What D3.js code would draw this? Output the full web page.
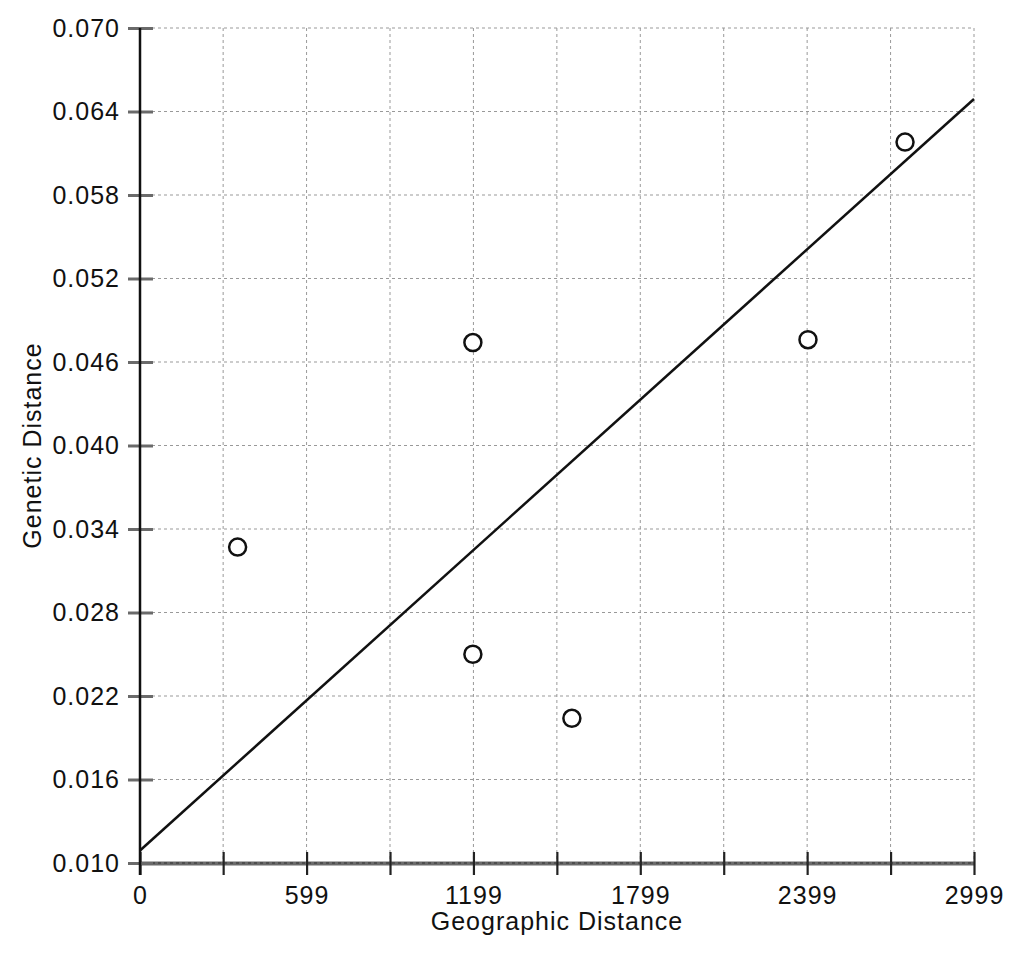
<!DOCTYPE html>
<html>
<head>
<meta charset="utf-8">
<script src="https://cdn.jsdelivr.net/npm/d3@7"></script>
<style>
    body { margin: 0; background: #fff; }
    text { font-family: "Liberation Sans", Arial, sans-serif; fill: #111; }
</style>
</head>
<body>
<div id="scatter"></div>
<script>
var geoDistance = [351, 1197, 1197, 1553, 2402, 2751];
var geneticDistance = [0.0327, 0.0474, 0.0250, 0.0204, 0.0476, 0.0618];

// fitted line, given by its two ends
var lineGeo = [0, 2999];
var lineGenetic = [0.0109, 0.0649];

var xTickValues = [0, 299, 599, 899, 1199, 1499, 1799, 2099, 2399, 2699, 2999];
var xTickLabels = ["0", "", "599", "", "1199", "", "1799", "", "2399", "", "2999"];
var yTickValues = [0.010, 0.016, 0.022, 0.028, 0.034, 0.040, 0.046, 0.052, 0.058, 0.064, 0.070];

var data = geoDistance.map(function (d, i) {
    return { geo: d, genetic: geneticDistance[i] };
});
var lineData = lineGeo.map(function (d, i) {
    return { geo: d, genetic: lineGenetic[i] };
});

var margin = { top: 28, right: 50, bottom: 91, left: 140 };
var width = 1024 - margin.left - margin.right;
var height = 954 - margin.top - margin.bottom;

var x = d3.scaleLinear().domain([0, 2999]).range([0, width]);
var y = d3.scaleLinear().domain([0.010, 0.070]).range([height, 0]);

var svg = d3.select("#scatter").append("svg")
    .attr("width", 1024)
    .attr("height", 954)
    .append("g")
    .attr("transform", "translate(" + margin.left + "," + margin.top + ")");

// grid
svg.append("g").selectAll("line")
    .data(xTickValues.slice(1))
    .enter().append("line")
    .attr("x1", function (d) { return x(d); })
    .attr("x2", function (d) { return x(d); })
    .attr("y1", 0)
    .attr("y2", height)
    .attr("stroke", "#999")
    .attr("stroke-width", 1)
    .attr("stroke-dasharray", "3,3");
svg.append("g").selectAll("line")
    .data(yTickValues)
    .enter().append("line")
    .attr("x1", 0)
    .attr("x2", width)
    .attr("y1", function (d) { return y(d); })
    .attr("y2", function (d) { return y(d); })
    .attr("stroke", "#999")
    .attr("stroke-width", 1)
    .attr("stroke-dasharray", "3,3");

// x axis
var xAxis = svg.append("g")
    .attr("transform", "translate(0," + height + ")")
    .call(d3.axisBottom(x)
        .tickValues(xTickValues)
        .tickFormat(function (d, i) { return xTickLabels[i]; })
        .tickSize(0)
        .tickPadding(23));
xAxis.select(".domain").attr("stroke", "#6a6a6a").attr("stroke-width", 4);
xAxis.selectAll(".tick line")
    .attr("y1", -11)
    .attr("y2", 12)
    .attr("stroke", "#222")
    .attr("stroke-width", 2.2);
xAxis.selectAll(".tick text")
    .style("font-size", "25px")
    .style("letter-spacing", "1px")
    .attr("fill", "#111");
svg.append("line")
    .attr("x1", 0).attr("x2", width)
    .attr("y1", height).attr("y2", height)
    .attr("stroke", "#333")
    .attr("stroke-width", 1)
    .attr("stroke-dasharray", "3,3");

// y axis
var yAxis = svg.append("g")
    .call(d3.axisLeft(y)
        .tickValues(yTickValues)
        .tickFormat(d3.format(".3f"))
        .tickSize(0)
        .tickPadding(20));
yAxis.select(".domain").remove();
yAxis.selectAll(".tick line")
    .attr("x1", -12)
    .attr("x2", 13)
    .attr("stroke", "#6a6a6a")
    .attr("stroke-width", 3);
yAxis.selectAll(".tick text")
    .style("font-size", "25px")
    .style("letter-spacing", "1px")
    .attr("fill", "#111");
svg.append("line")
    .attr("x1", 0).attr("x2", 0)
    .attr("y1", 0).attr("y2", height + 12)
    .attr("stroke", "#111")
    .attr("stroke-width", 2.5);

// fitted line
var valueline = d3.line()
    .x(function (d) { return x(d.geo); })
    .y(function (d) { return y(d.genetic); });
svg.append("path")
    .datum(lineData)
    .attr("d", valueline)
    .attr("fill", "none")
    .attr("stroke", "#111")
    .attr("stroke-width", 2.5);

// points
svg.selectAll("circle.dot")
    .data(data)
    .enter().append("circle")
    .attr("class", "dot")
    .attr("r", 8.5)
    .attr("cx", function (d) { return x(d.geo); })
    .attr("cy", function (d) { return y(d.genetic); })
    .attr("stroke", "#111")
    .attr("stroke-width", 2.5)
    .attr("fill", "#fff");

// titles
svg.append("text")
    .attr("x", width / 2)
    .attr("y", height + 67)
    .attr("text-anchor", "middle")
    .style("font-size", "25px")
    .style("letter-spacing", "1px")
    .text("Geographic Distance");
svg.append("text")
    .attr("transform", "translate(" + (-99) + "," + (height / 2) + ") rotate(-90)")
    .attr("text-anchor", "middle")
    .style("font-size", "25px")
    .style("letter-spacing", "1px")
    .text("Genetic Distance");
</script>
</body>
</html>
